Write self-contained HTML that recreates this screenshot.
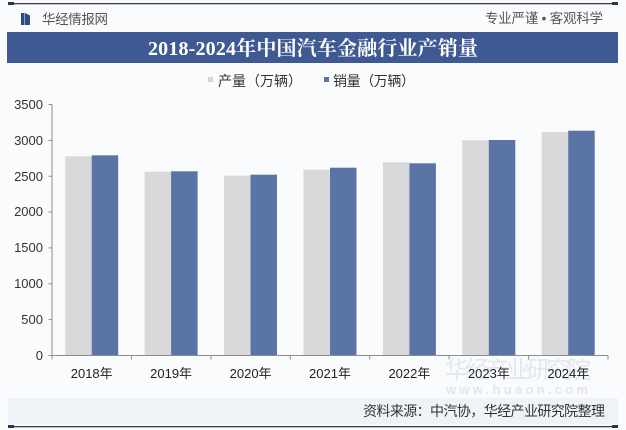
<!DOCTYPE html>
<html><head><meta charset="utf-8"><style>
html,body{margin:0;padding:0;background:#fafbfd;}
svg{display:block;}
text{font-family:"Liberation Sans","Noto Sans CJK SC",sans-serif;}
</style></head><body>
<svg width="626" height="430" viewBox="0 0 626 430" xmlns="http://www.w3.org/2000/svg">
<rect x="0" y="0" width="626" height="430" fill="#fafbfd"/>
<!-- top line -->
<rect x="8" y="3" width="610" height="1.3" fill="#3a3f4a"/>
<rect x="8" y="2" width="6" height="3" fill="#2b3550"/>
<rect x="612" y="2" width="6" height="3" fill="#2b3550"/>
<!-- logo -->
<rect x="21" y="13" width="3.5" height="12" fill="#2f4a86"/>
<path d="M25 13 L30 15.5 L30 25 L25 25 Z" fill="#2f4a86"/>
<text x="42" y="24" font-size="13.5" fill="#555" textLength="66">华经情报网</text>
<text x="485" y="23" font-size="13.5" fill="#555" textLength="118">专业严谨 • 客观科学</text>
<!-- title bar -->
<rect x="7" y="32" width="611" height="31" fill="#3f5a93"/>
<text x="148" y="55" font-size="20" font-weight="bold" fill="#ffffff" style="font-family:'Liberation Serif','Noto Serif CJK SC',serif" textLength="330">2018-2024年中国汽车金融行业产销量</text>
<!-- legend -->
<rect x="208" y="77" width="5" height="5" fill="#d6d6d8"/>
<text x="218" y="86" font-size="14" fill="#333" textLength="84">产量（万辆）</text>
<rect x="324" y="77" width="5" height="5" fill="#5a74a5"/>
<text x="333" y="86" font-size="14" fill="#333" textLength="82">销量（万辆）</text>
<!-- watermark -->
<text x="445" y="378" font-size="24" fill="#e2e7f0" textLength="146">华经产业研究院</text>
<text x="446" y="394" font-size="13" fill="#e3e5ea" textLength="142" font-weight="bold">www.huaon.com</text>
<!-- y axis labels -->
<g font-size="13" fill="#333" text-anchor="end">
<text x="43" y="109">3500</text>
<text x="43" y="145">3000</text>
<text x="43" y="181">2500</text>
<text x="43" y="216">2000</text>
<text x="43" y="252">1500</text>
<text x="43" y="288">1000</text>
<text x="43" y="324">500</text>
<text x="43" y="360">0</text>
</g>
<!-- bars -->
<g>
<rect x="65.2" y="156.3" width="26.5" height="199.2" fill="#d9d9db"/>
<rect x="91.7" y="155.3" width="26.5" height="200.2" fill="#5a74a5"/>
<rect x="144.6" y="171.7" width="26.5" height="183.8" fill="#d9d9db"/>
<rect x="171.1" y="171.3" width="26.5" height="184.2" fill="#5a74a5"/>
<rect x="224.0" y="175.7" width="26.5" height="179.8" fill="#d9d9db"/>
<rect x="250.5" y="174.7" width="26.5" height="180.8" fill="#5a74a5"/>
<rect x="303.5" y="169.7" width="26.5" height="185.8" fill="#d9d9db"/>
<rect x="330.0" y="167.7" width="26.5" height="187.8" fill="#5a74a5"/>
<rect x="382.9" y="162.3" width="26.5" height="193.2" fill="#d9d9db"/>
<rect x="409.4" y="163.3" width="26.5" height="192.2" fill="#5a74a5"/>
<rect x="462.3" y="140.3" width="26.5" height="215.2" fill="#d9d9db"/>
<rect x="488.8" y="140.0" width="26.5" height="215.5" fill="#5a74a5"/>
<rect x="541.7" y="132.0" width="26.5" height="223.5" fill="#d9d9db"/>
<rect x="568.2" y="130.7" width="26.5" height="224.8" fill="#5a74a5"/>
</g>
<!-- axes -->
<g stroke="#8c8c8c" stroke-width="1" fill="none">
<line x1="52" y1="104.5" x2="52" y2="355.5"/>
<line x1="52" y1="355.5" x2="608" y2="355.5"/>
<line x1="48.5" y1="104.5" x2="52" y2="104.5"/>
<line x1="48.5" y1="140.4" x2="52" y2="140.4"/>
<line x1="48.5" y1="176.2" x2="52" y2="176.2"/>
<line x1="48.5" y1="212.1" x2="52" y2="212.1"/>
<line x1="48.5" y1="247.9" x2="52" y2="247.9"/>
<line x1="48.5" y1="283.8" x2="52" y2="283.8"/>
<line x1="48.5" y1="319.6" x2="52" y2="319.6"/>
<line x1="48.5" y1="355.5" x2="52" y2="355.5"/>
<line x1="52" y1="355.5" x2="52" y2="359.5"/>
<line x1="131.4" y1="355.5" x2="131.4" y2="359.5"/>
<line x1="210.9" y1="355.5" x2="210.9" y2="359.5"/>
<line x1="290.3" y1="355.5" x2="290.3" y2="359.5"/>
<line x1="369.7" y1="355.5" x2="369.7" y2="359.5"/>
<line x1="449.1" y1="355.5" x2="449.1" y2="359.5"/>
<line x1="528.6" y1="355.5" x2="528.6" y2="359.5"/>
<line x1="608" y1="355.5" x2="608" y2="359.5"/>
</g>
<!-- x labels -->
<g font-size="13" fill="#222" text-anchor="middle">
<text x="91.7" y="378">2018年</text>
<text x="171.1" y="378">2019年</text>
<text x="250.6" y="378">2020年</text>
<text x="330.0" y="378">2021年</text>
<text x="409.4" y="378">2022年</text>
<text x="488.9" y="378">2023年</text>
<text x="568.3" y="378">2024年</text>
</g>
<!-- source bar -->
<rect x="8" y="398" width="610" height="26" fill="#eff2f7"/>
<text x="363" y="416" font-size="14" fill="#333" textLength="242">资料来源：中汽协，华经产业研究院整理</text>
<rect x="8" y="426" width="610" height="1.3" fill="#3a3f4a"/>
<rect x="8" y="425" width="6" height="3" fill="#2b3550"/>
<rect x="612" y="425" width="6" height="3" fill="#2b3550"/>
</svg>
</body></html>
